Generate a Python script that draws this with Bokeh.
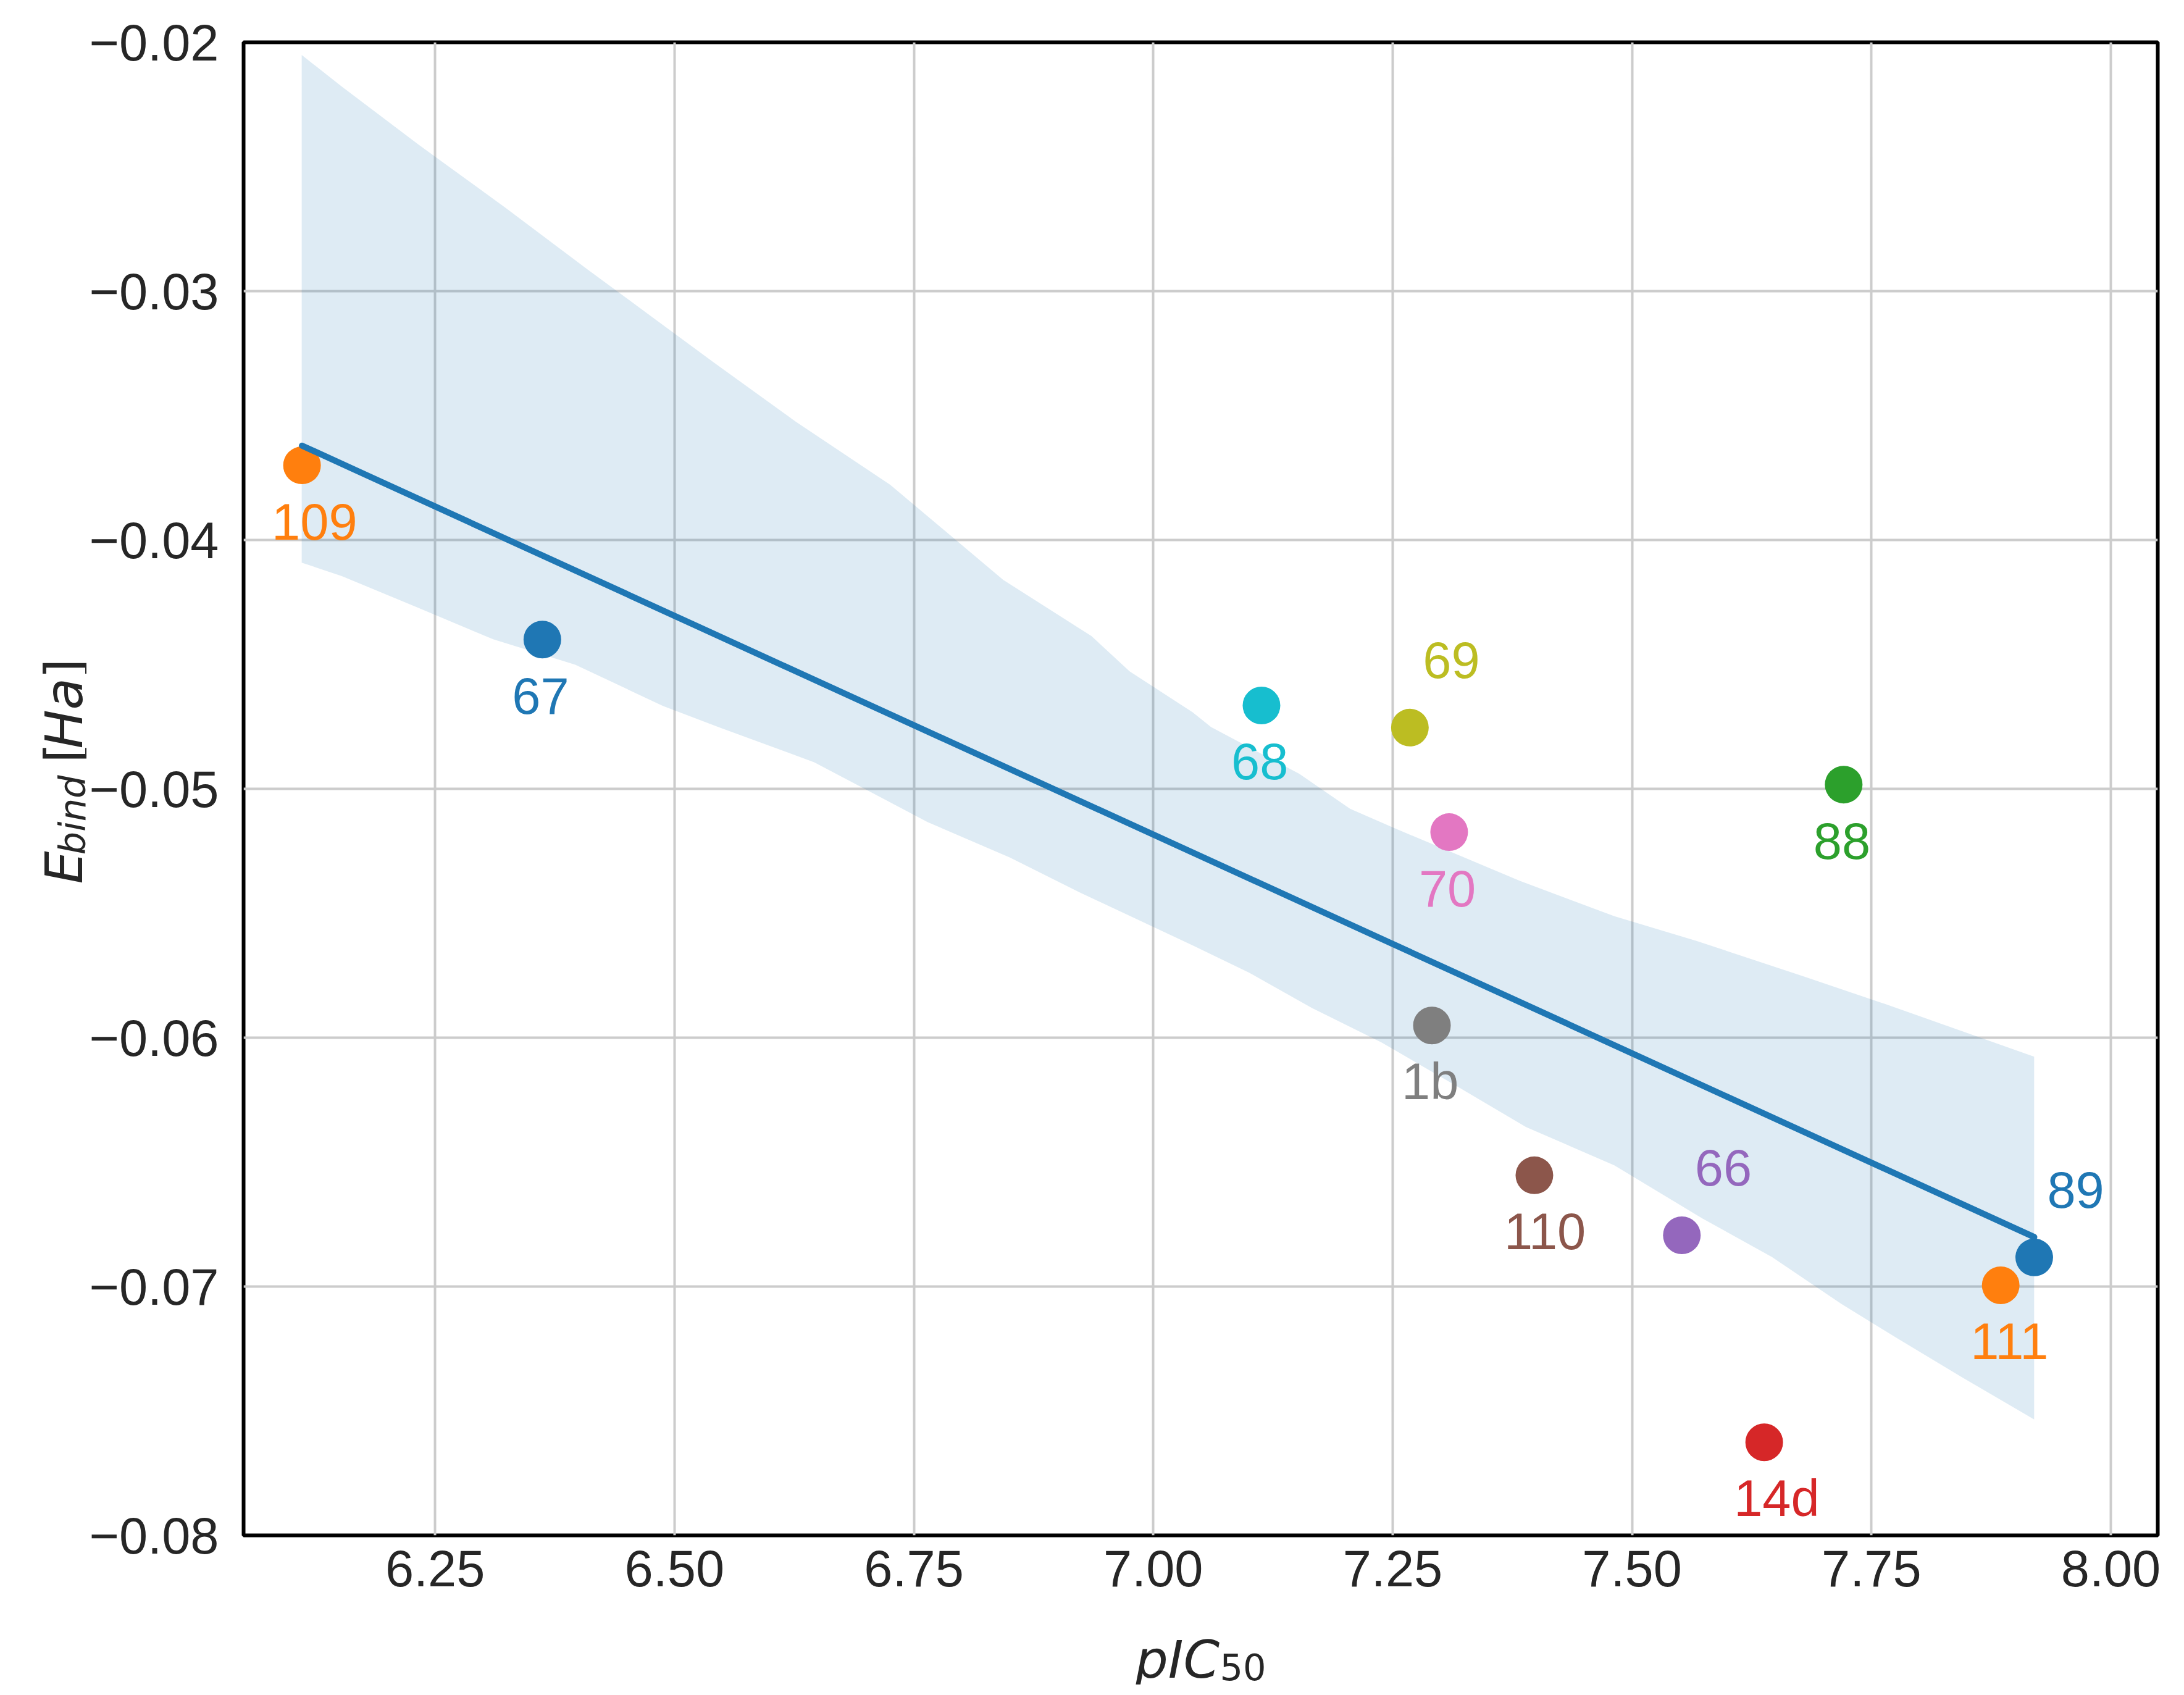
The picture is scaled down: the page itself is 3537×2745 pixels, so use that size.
import numpy as np
from bokeh.plotting import figure
from bokeh.layouts import column, row
from bokeh.models import ColumnDataSource, FixedTicker, Range1d, Label
from bokeh.core.properties import value
from bokeh.embed import file_html
from bokeh.resources import INLINE

# ---------------- data ----------------
names = ["109", "67", "68", "69", "70", "1b", "110", "66", "14d", "88", "111", "89"]
pic50 = [6.111, 6.362, 7.113, 7.268, 7.309, 7.291, 7.398, 7.552, 7.638, 7.721, 7.885, 7.920]
ebind = [-0.0370, -0.0440, -0.04665, -0.04754, -0.05174, -0.05951,
         -0.06553, -0.06794, -0.07626, -0.04983, -0.06995, -0.06883]
colors = ["#ff7f0e", "#1f77b4", "#17becf", "#bcbd22", "#e377c2", "#7f7f7f",
          "#8c564b", "#9467bd", "#d62728", "#2ca02c", "#ff7f0e", "#1f77b4"]
labels_above = ["69", "66", "89"]

# confidence band
band_upper_x = [6.1107, 6.1526, 6.2319, 6.3235, 6.4093, 6.5408, 6.6265, 6.7252, 6.8432,
                6.9354, 6.9753, 7.0411, 7.0604, 7.1526, 7.2055, 7.2513, 7.3828, 7.4815,
                7.5672, 7.6787, 7.7645, 7.9199]
band_upper_y = [-0.02051, -0.02178, -0.02409, -0.02665, -0.02913, -0.03286, -0.03524,
                -0.03778, -0.04160, -0.04386, -0.04528, -0.04692, -0.04752, -0.04940,
                -0.05080, -0.05157, -0.05370, -0.05512, -0.05611, -0.05753, -0.05865,
                -0.06076]
band_lower_x = [6.1107, 6.1526, 6.2319, 6.3106, 6.3964, 6.4879, 6.5472, 6.6459, 6.7645,
                6.8503, 6.9225, 7.0411, 7.0998, 7.1655, 7.2384, 7.3170, 7.3893, 7.4815,
                7.5737, 7.6459, 7.7187, 7.7774, 7.8438, 7.9199]
band_lower_y = [-0.04091, -0.04145, -0.04272, -0.04399, -0.04501, -0.04667, -0.04754,
                -0.04893, -0.05134, -0.05276, -0.05415, -0.05629, -0.05738, -0.05880,
                -0.06019, -0.06195, -0.06359, -0.06513, -0.06727, -0.06881, -0.07070,
                -0.07209, -0.07363, -0.07534]

x_ticks = [6.25, 6.5, 6.75, 7.0, 7.25, 7.5, 7.75, 8.0]
x_tick_labels = ["6.25", "6.50", "6.75", "7.00", "7.25", "7.50", "7.75", "8.00"]
y_ticks = [-0.08, -0.07, -0.06, -0.05, -0.04, -0.03, -0.02]
y_tick_labels = ["\u22120.08", "\u22120.07", "\u22120.06", "\u22120.05",
                 "\u22120.04", "\u22120.03", "\u22120.02"]

x_label_main, x_label_sub = "pIC", "50"
y_label_main, y_label_sub, y_label_unit = "E", "bind", "Ha"

# ---------------- layout (page pixels) ----------------
X0, X1 = 6.05, 8.049
Y0, Y1 = -0.08, -0.02
W, H = 3520, 2728          # whole page block
LW = 140                   # left strip (y label)
HT = 2606                  # height of the main row
FRAME_L, FRAME_T, FRAME_R, FRAME_B = 394, 68, 3494, 2486
FONT = "Liberation Sans"
MATH = "DejaVu Sans"
TXT = "#262626"

PW = W - LW
p = figure(width=PW, height=HT, x_range=Range1d(X0, X1), y_range=Range1d(Y0, Y1),
           output_backend="svg", toolbar_location=None, title=None,
           min_border_left=FRAME_L - LW, min_border_right=W - FRAME_R,
           min_border_top=FRAME_T, min_border_bottom=HT - FRAME_B)
p.background_fill_color = "white"
p.border_fill_color = "white"
p.outline_line_color = "black"
p.outline_line_width = 6

for ax in (p.xaxis, p.yaxis):
    ax.axis_line_color = None
    ax.major_tick_line_color = None
    ax.minor_tick_line_color = None
    ax.major_tick_out = 0
    ax.major_tick_in = 0
    ax.minor_tick_out = 0
    ax.minor_tick_in = 0
    ax.major_label_text_font = FONT
    ax.major_label_text_font_size = "83px"
    ax.major_label_text_color = TXT
    ax.axis_label = None

p.xaxis.ticker = FixedTicker(ticks=x_ticks)
p.yaxis.ticker = FixedTicker(ticks=y_ticks)
p.xaxis.major_label_overrides = {t: l for t, l in zip(x_ticks, x_tick_labels)}
p.yaxis.major_label_overrides = {t: l for t, l in zip(y_ticks, y_tick_labels)}
p.xaxis.major_label_standoff = 24
p.yaxis.major_label_standoff = 40

p.xgrid.ticker = FixedTicker(ticks=x_ticks)
p.ygrid.ticker = FixedTicker(ticks=y_ticks)
for g in (p.xgrid, p.ygrid):
    g.grid_line_color = "#cccccc"
    g.grid_line_width = 4

# band
p.patch(band_upper_x + band_lower_x[::-1], band_upper_y + band_lower_y[::-1],
        fill_color="#1f77b4", fill_alpha=0.15, line_color=None)

# points
xo = [21 if n in labels_above else -49 for n in names]
yo = [-109 if n in labels_above else 91 for n in names]
src = ColumnDataSource(dict(x=pic50, y=ebind, name=names, color=colors, xo=xo, yo=yo))
p.scatter("x", "y", source=src, size=61, fill_color="color", line_color=None)

# regression line (least squares on the points)
slope, intercept = np.polyfit(pic50, ebind, 1)
lx = np.array([min(pic50), max(pic50)])
p.line(lx, slope * lx + intercept, line_color="#1f77b4", line_width=10, line_cap="round")

p.text(x="x", y="y", text="name", source=src, text_color="color",
       text_align="left", text_baseline="middle", x_offset="xo", y_offset="yo",
       text_font=value(FONT), text_font_size=value("83px"))


def strip(w, h):
    f = figure(width=w, height=h, x_range=Range1d(0, w), y_range=Range1d(0, h),
               output_backend="svg", toolbar_location=None, title=None,
               x_axis_type=None, y_axis_type=None, min_border=0)
    f.outline_line_color = None
    f.background_fill_color = "white"
    f.border_fill_color = "white"
    f.xgrid.visible = False
    f.ygrid.visible = False
    return f


def put(f, top, x, y, text, size, style="normal", angle=0.0):
    # x, y: page pixels; top: page y of the strip's top edge
    f.add_layout(Label(x=x, y=f.height - (y - top), text=text, angle=angle,
                       text_font=MATH, text_font_size=size, text_font_style=style,
                       text_color=TXT, text_align="left", text_baseline="alphabetic"))


# y axis label strip (left):  E_bind [Ha]
pl = strip(LW, HT)
R = np.pi / 2
put(pl, 0, 103, 1469, y_label_main, "84px", "italic", R)
put(pl, 0, 117, 1418, y_label_sub, "59px", "italic", R)
put(pl, 0, 103, 1258, "[", "84px", "normal", R)
put(pl, 0, 103, 1233, y_label_unit, "84px", "italic", R)
put(pl, 0, 103, 1111, "]", "84px", "normal", R)

# x axis label strip (bottom):  pIC_50
pb = strip(W, H - HT)
put(pb, HT, 1838, 2687, x_label_main, "84px", "italic")
put(pb, HT, 1975, 2699, x_label_sub, "59px", "normal")

layout = column(row(pl, p), pb)
open("out.html", "w").write(file_html(layout, INLINE))
